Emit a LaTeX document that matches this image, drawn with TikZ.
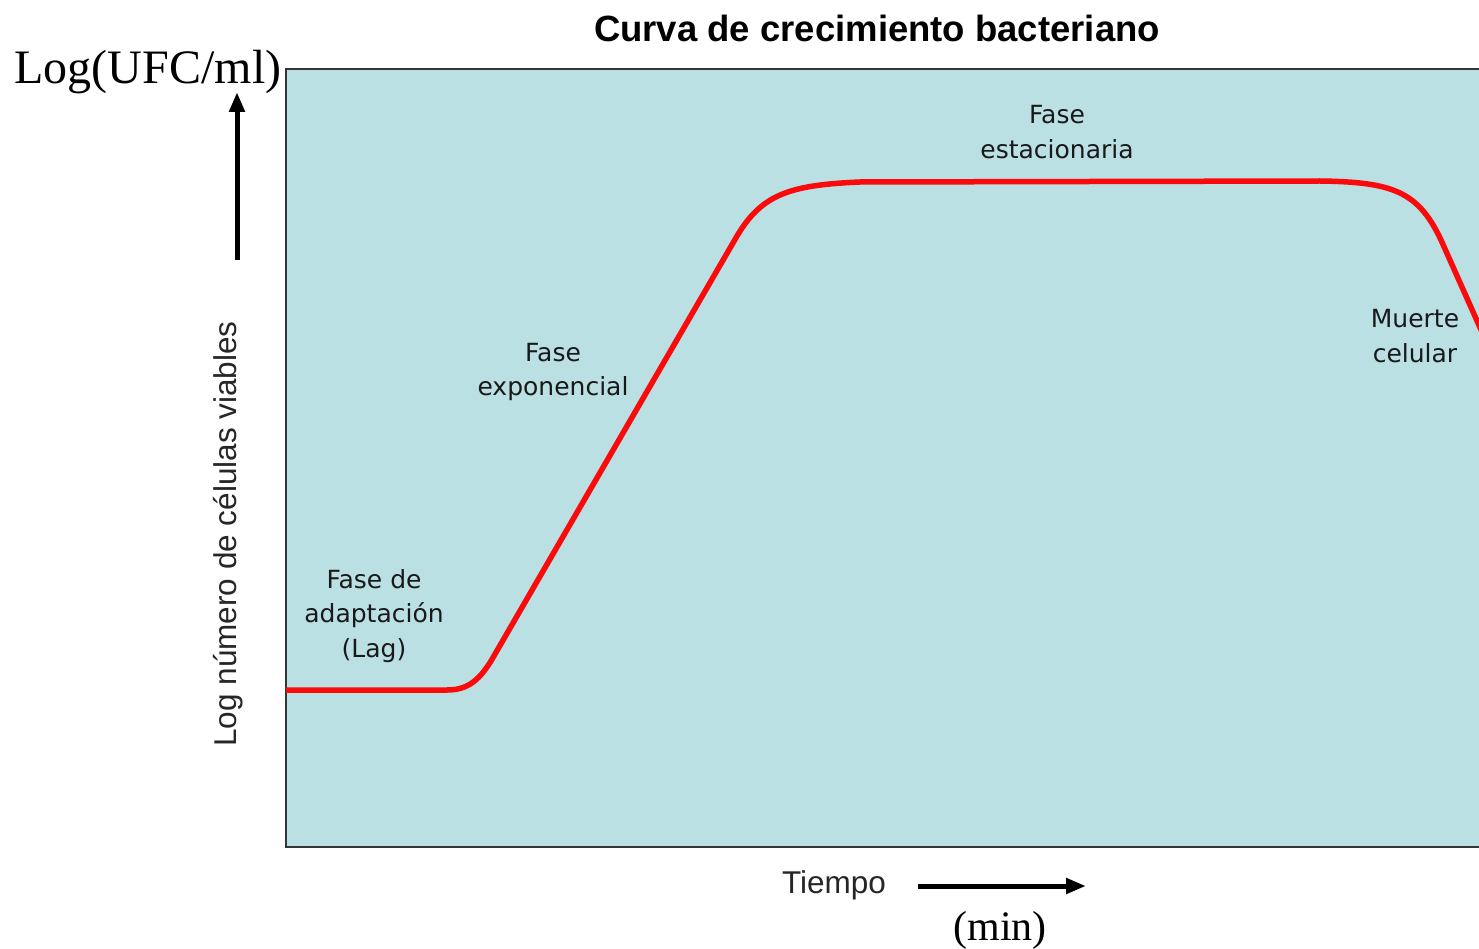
\documentclass[tikz,border=0pt]{standalone}
\usepackage{fontspec}
\setmainfont{Liberation Serif}
\newfontfamily\arialf{Liberation Sans}
\newfontfamily\comicf{DejaVu Sans}
\usetikzlibrary{arrows.meta}
\definecolor{panel}{RGB}{187,224,228}
\definecolor{frameline}{RGB}{50,55,55}
\definecolor{curvered}{RGB}{250,10,10}
\definecolor{labeltext}{RGB}{25,25,25}
\tikzset{
  phaselabel/.style={font=\comicf\fontsize{25}{34.5}\selectfont, text=labeltext, align=center, inner sep=0pt},
  axisarrow/.style={line width=5pt, -{Triangle[length=20pt,width=15pt]}},
  serifbig/.style={font=\fontsize{48}{50}\selectfont, inner sep=0pt},
  sanslabel/.style={font=\arialf\fontsize{31.5}{34}\selectfont, inner sep=0pt, text=black!85},
}
\begin{document}
\begin{tikzpicture}[x=1pt,y=-1pt]
\useasboundingbox (0,0) rectangle (1479,949);
\fill[white] (0,0) rectangle (1479,949);
\begin{scope}
\clip (0,0) rectangle (1479,949);
\draw[fill=panel, draw=frameline, line width=2.2pt] (286,69) rectangle (1500,847);
\clip (286,69) rectangle (1479,847);
\draw[curvered, line width=5.5pt, line join=round]
  (280,690) -- (447,690)
  .. controls (466,690) and (478,682) .. (491,661)
  -- (737,236)
  .. controls (762,194) and (790,185) .. (860,182)
  -- (1320,181)
  .. controls (1392,182) and (1418,191) .. (1441,240)
  -- (1490,350);
\end{scope}
\node[font=\arialf\bfseries\fontsize{36.5}{38}\selectfont, inner sep=0pt] (title) at (877,28) {Curva de crecimiento bacteriano};
\node[serifbig] (ufc) at (148,72) {Log(UFC/ml)};
\node[sanslabel, rotate=90] (ylab) at (228,534) {Log número de células viables};
\node[sanslabel] (tiempo) at (834,885) {Tiempo};
\node[font=\fontsize{42}{44}\selectfont, inner sep=0pt] (min) at (1000,930) {(min)};
\coordinate (yfrom) at (237,260);
\coordinate (yto) at (237,92);
\draw[axisarrow] (yfrom) -- (yto);
\coordinate (tfrom) at (918,886);
\coordinate (tto) at (1086,886);
\draw[axisarrow] (tfrom) -- (tto);
\node[phaselabel] (lag) at (374,616) {Fase de\\adaptación\\(Lag)};
\node[phaselabel] (expo) at (553,372) {Fase\\exponencial};
\node[phaselabel] (esta) at (1057,132) {Fase\\estacionaria};
\node[phaselabel] (muerte) at (1415,336) {Muerte\\celular};
\end{tikzpicture}
\end{document}
